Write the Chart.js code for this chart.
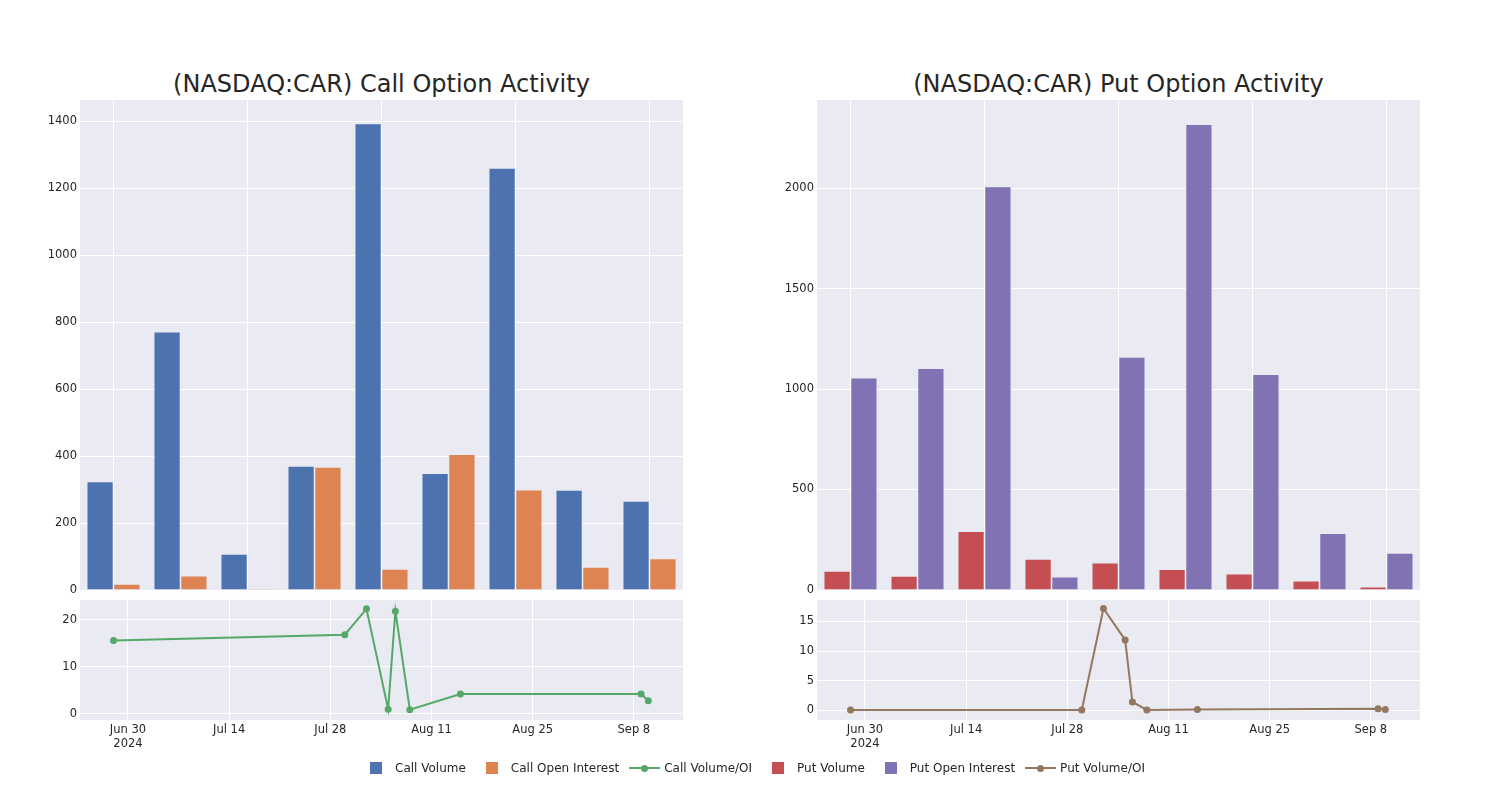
<!DOCTYPE html>
<html>
<head>
<meta charset="utf-8">
<script src="https://cdn.jsdelivr.net/npm/chart.js@4.4.1/dist/chart.umd.min.js"></script>
<style>
    body { margin: 0; background: #fff; font-family: "DejaVu Sans", sans-serif; color: #262626; }
    #page { position: relative; width: 1500px; height: 800px; }
    .box { position: absolute; }
    .title { position: absolute; width: 603px; text-align: center; font-size: 24px; line-height: 28px; top: 70px; }
    #legend { position: absolute; left: 360px; top: 759px; display: flex; align-items: center; font-size: 12px; }
    .item { display: flex; align-items: center; margin-right: 10px; }
    .handle { width: 31px; height: 18px; position: relative; margin-right: 4px; }
    .square { position: absolute; left: 10px; top: 3px; width: 12px; height: 12px; }
    .line { position: absolute; left: 0; top: 8px; width: 31px; height: 2px; }
    .dot { position: absolute; left: 12px; top: 6px; width: 7px; height: 7px; border-radius: 50%; }
</style>
</head>
<body>
<div id="page">
    <div class="title" style="left: 80px;">(NASDAQ:CAR) Call Option Activity</div>
    <div class="title" style="left: 817px;">(NASDAQ:CAR) Put Option Activity</div>
    <div class="box" style="left: 0; top: 60px; width: 700px; height: 540px;"><canvas id="callBars"></canvas></div>
    <div class="box" style="left: 0; top: 590px; width: 700px; height: 170px;"><canvas id="callRatio"></canvas></div>
    <div class="box" style="left: 737px; top: 60px; width: 700px; height: 540px;"><canvas id="putBars"></canvas></div>
    <div class="box" style="left: 737px; top: 590px; width: 700px; height: 170px;"><canvas id="putRatio"></canvas></div>
    <div id="legend"></div>
</div>
<script>
// dates of the activity snapshots
const dates = ['2024-06-28', '2024-07-30', '2024-08-02', '2024-08-05', '2024-08-06',
    '2024-08-08', '2024-08-15', '2024-09-09', '2024-09-10'];

const callVolume = [324, 772, 108, 371, 1394, 349, 1261, 299, 266];
const callOpenInterest = [18, 43, 3, 368, 63, 406, 300, 69, 94];
const callRatio = [15.6, 16.8, 22.3, 1.0, 21.8, 0.9, 4.2, 4.2, 2.8];

const putVolume = [95, 70, 293, 154, 136, 104, 81, 46, 17];
const putOpenInterest = [1056, 1103, 2008, 66, 1160, 2318, 1074, 283, 184];
const putRatio = [0.1, 0.1, 17.15, 11.86, 1.43, 0.1, 0.15, 0.3, 0.15];

// tick values
const callBarTicks = [0, 200, 400, 600, 800, 1000, 1200, 1400];
const putBarTicks = [0, 500, 1000, 1500, 2000];
const callRatioTicks = [0, 10, 20];
const putRatioTicks = [0, 5, 10, 15];

// x ticks of the ratio panels, in days from Jun 30
const xTickDays = [0, 14, 28, 42, 56, 70];
const xTickLabels = [['Jun 30', '2024'], 'Jul 14', 'Jul 28', 'Aug 11', 'Aug 25', 'Sep 8'];

const colors = {
    callVolume: '#4C72B0',
    callOI: '#DD8452',
    callRatio: '#55A868',
    putVolume: '#C44E52',
    putOI: '#8172B3',
    putRatio: '#937860'
};

const dayZero = Date.UTC(2024, 5, 30);
function toDay(s) {
    const p = s.split('-');
    return (Date.UTC(+p[0], +p[1] - 1, +p[2]) - dayZero) / 86400000;
}

Chart.defaults.font.family = '"DejaVu Sans", sans-serif';
Chart.defaults.font.size = 11.5;
Chart.defaults.color = '#262626';

const plotBackground = {
    id: 'plotBackground',
    beforeDraw(chart) {
        const a = chart.chartArea;
        const ctx = chart.ctx;
        ctx.save();
        ctx.fillStyle = '#EAEAF2';
        ctx.fillRect(a.left, a.top, a.right - a.left, a.bottom - a.top);
        ctx.restore();
    }
};

function fixedTicks(values) {
    return scale => { scale.ticks = values.map(v => ({ value: v })); };
}

function barChart(id, volume, oi, volColor, oiColor, yMax, yTicks) {
    new Chart(document.getElementById(id), {
        type: 'bar',
        data: {
            labels: dates,
            datasets: [
                { data: volume, backgroundColor: volColor, borderColor: 'rgba(234,234,242,0.8)', borderWidth: 0.8 },
                { data: oi, backgroundColor: oiColor, borderColor: 'rgba(234,234,242,0.8)', borderWidth: 0.8 }
            ]
        },
        options: {
            responsive: true,
            maintainAspectRatio: false,
            animation: false,
            layout: { padding: { top: 40, right: 17, left: 0, bottom: 0 } },
            datasets: { bar: { categoryPercentage: 0.8, barPercentage: 1.0 } },
            plugins: { legend: { display: false }, tooltip: { enabled: false } },
            scales: {
                x: {
                    ticks: { display: false },
                    border: { display: false },
                    grid: {
                        offset: false,
                        drawTicks: false,
                        color: ctx => ctx.index % 2 === 0 ? '#ffffff' : 'rgba(0,0,0,0)'
                    },
                    afterFit: s => { s.height = 10; }
                },
                y: {
                    min: 0,
                    max: yMax,
                    afterBuildTicks: fixedTicks(yTicks),
                    ticks: { padding: 3, callback: v => String(v) },
                    border: { display: false },
                    grid: { color: '#ffffff', drawTicks: false },
                    afterFit: s => { s.width = 80; }
                }
            }
        },
        plugins: [plotBackground]
    });
}

function ratioChart(id, values, color, yMin, yMax, yTicks) {
    new Chart(document.getElementById(id), {
        type: 'line',
        data: {
            datasets: [{
                data: dates.map((d, i) => ({ x: toDay(d), y: values[i] })),
                borderColor: color,
                backgroundColor: color,
                borderWidth: 2,
                pointRadius: 3.5,
                pointBorderWidth: 0,
                tension: 0
            }]
        },
        options: {
            responsive: true,
            maintainAspectRatio: false,
            animation: false,
            layout: { padding: { top: 7, right: 17, left: 0, bottom: 0 } },
            plugins: { legend: { display: false }, tooltip: { enabled: false } },
            scales: {
                x: {
                    type: 'linear',
                    min: -6.64,
                    max: 76.8,
                    afterBuildTicks: fixedTicks(xTickDays),
                    ticks: {
                        padding: 3,
                        maxRotation: 0,
                        autoSkip: false,
                        callback: v => {
                            const i = xTickDays.indexOf(v);
                            return i < 0 ? '' : xTickLabels[i];
                        }
                    },
                    border: { display: false },
                    grid: { color: '#ffffff', drawTicks: false },
                    afterFit: s => { s.height = 40; }
                },
                y: {
                    min: yMin,
                    max: yMax,
                    afterBuildTicks: fixedTicks(yTicks),
                    ticks: { padding: 3, callback: v => String(v) },
                    border: { display: false },
                    grid: { color: '#ffffff', drawTicks: false },
                    afterFit: s => { s.width = 80; }
                }
            }
        },
        plugins: [plotBackground]
    });
}

barChart('callBars', callVolume, callOpenInterest, colors.callVolume, colors.callOI, 1464, callBarTicks);
barChart('putBars', putVolume, putOpenInterest, colors.putVolume, colors.putOI, 2438, putBarTicks);
ratioChart('callRatio', callRatio, colors.callRatio, -1.3, 24.2, callRatioTicks);
ratioChart('putRatio', putRatio, colors.putRatio, -1.6, 18.6, putRatioTicks);

// legend
const legendItems = [
    { label: 'Call Volume', color: colors.callVolume, kind: 'square' },
    { label: 'Call Open Interest', color: colors.callOI, kind: 'square' },
    { label: 'Call Volume/OI', color: colors.callRatio, kind: 'line' },
    { label: 'Put Volume', color: colors.putVolume, kind: 'square' },
    { label: 'Put Open Interest', color: colors.putOI, kind: 'square' },
    { label: 'Put Volume/OI', color: colors.putRatio, kind: 'line' }
];
const legend = document.getElementById('legend');
legendItems.forEach(item => {
    const el = document.createElement('div');
    el.className = 'item';
    let handle = '<div class="handle">';
    if (item.kind === 'square') {
        handle += '<div class="square" style="background:' + item.color + '"></div>';
    } else {
        handle += '<div class="line" style="background:' + item.color + '"></div>'
            + '<div class="dot" style="background:' + item.color + '"></div>';
    }
    handle += '</div>';
    el.innerHTML = handle + '<span>' + item.label + '</span>';
    legend.appendChild(el);
});
</script>
</body>
</html>
